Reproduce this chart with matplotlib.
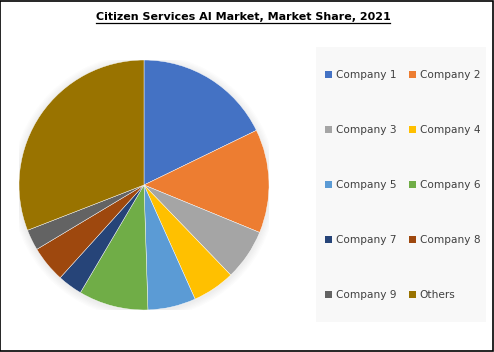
import matplotlib.pyplot as plt
from matplotlib.patches import Rectangle, Circle
from matplotlib.lines import Line2D

labels = ["Company 1", "Company 2", "Company 3", "Company 4", "Company 5",
          "Company 6", "Company 7", "Company 8", "Company 9", "Others"]
shares = [17.8, 13.4, 6.6, 5.5, 6.2, 9.0, 3.2, 4.7, 2.7, 30.9]
colors = ["#4472C4", "#ED7D31", "#A5A5A5", "#FFC000", "#5B9BD5",
          "#70AD47", "#264478", "#9E480E", "#636363", "#997300"]

title = "Citizen Services AI Market, Market Share, 2021"

fig = plt.figure(figsize=(4.94, 3.52), dpi=100)
fig.patch.set_facecolor("white")

# outer border
fig.add_artist(Rectangle((0.001, 0.002), 0.997, 0.995, transform=fig.transFigure,
                         fill=False, edgecolor="black", linewidth=1.2))

# legend background
fig.add_artist(Rectangle((316 / 494, 1 - 322 / 352), 170 / 494, 275 / 352,
                         transform=fig.transFigure, facecolor="#F8F8F8",
                         edgecolor="none", zorder=0))

ax = fig.add_axes([19 / 494, 42 / 352, 250 / 494, 250 / 352])
ax.axis("off")

# soft shadow behind the pie
for i in range(6):
    r = 1.0 + 0.01 * (i + 1)
    ax.add_patch(Circle((0.0, -0.01), r, facecolor="black",
                        alpha=0.012, edgecolor="none", zorder=0))

wedges, _ = ax.pie(shares, colors=colors, startangle=90, counterclock=False,
                   radius=1.0, wedgeprops=dict(edgecolor="white", linewidth=0.3))
for w in wedges:
    w.set_zorder(2)
ax.set_xlim(-1.0, 1.0)
ax.set_ylim(-1.0, 1.0)
ax.set_aspect("equal")

# title with underline
t = fig.text(0.492, 1 - 17 / 352, title, ha="center", va="center",
             fontsize=8.0, fontweight="bold", color="black")
fig.canvas.draw()
bb = t.get_window_extent().transformed(fig.transFigure.inverted())
fig.add_artist(Line2D([bb.x0, bb.x1], [bb.y0 - 0.004, bb.y0 - 0.004],
                      transform=fig.transFigure, color="black", linewidth=0.9))

# legend, row-major order in two columns
order = [0, 2, 4, 6, 8, 1, 3, 5, 7, 9]
handles = [wedges[i] for i in order]
leg_labels = [labels[i] for i in order]
leg = fig.legend(handles, leg_labels, ncol=2, loc="upper left",
                 bbox_to_anchor=(318 / 494, 1 - 63 / 352), frameon=False,
                 fontsize=7.6, labelspacing=4.25, handlelength=0.65, handleheight=0.65,
                 handletextpad=0.35, columnspacing=1.2, borderpad=0.2)
for txt in leg.get_texts():
    txt.set_color("#404040")
for h in leg.legend_handles:
    h.set_edgecolor("none")

fig.savefig("out.png", dpi=100)
